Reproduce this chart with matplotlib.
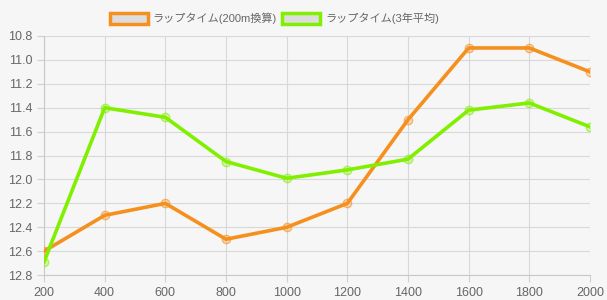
import matplotlib
matplotlib.use("Agg")
import matplotlib.pyplot as plt
from matplotlib.patches import Patch

plt.rcParams['font.family'] = ['Liberation Sans', 'Noto Sans CJK JP', 'DejaVu Sans']

distances = [200, 400, 600, 800, 1000, 1200, 1400, 1600, 1800, 2000]
lap_200m = [12.6, 12.3, 12.2, 12.5, 12.4, 12.2, 11.5, 10.9, 10.9, 11.1]
lap_3yr = [12.69, 11.4, 11.48, 11.85, 11.99, 11.92, 11.83, 11.42, 11.36, 11.56]
labels = ['ラップタイム(200m換算)', 'ラップタイム(3年平均)']
colors = ['#f5901e', '#80f000']
yticks = [10.8, 11.0, 11.2, 11.4, 11.6, 11.8, 12.0, 12.2, 12.4, 12.6, 12.8]

bg = '#f6f6f6'
fig = plt.figure(figsize=(6.07, 3.0), dpi=100, facecolor=bg)
ax = fig.add_axes([0.0725, 0.083, 0.8995, 0.797], facecolor=bg)

for series, c in zip([lap_200m, lap_3yr], colors):
    ax.plot(distances, series, color=c, lw=2.6, zorder=3,
            marker='o', markersize=6, markerfacecolor=c + '44',
            markeredgecolor=c + '99', markeredgewidth=1)

ax.set_xlim(200, 2000)
ax.set_ylim(12.8, 10.8)
ax.set_xticks(distances)
ax.set_yticks(yticks)
ax.set_yticklabels([f'{v:.1f}' for v in yticks])
ax.grid(True, color='#d8d8d8', lw=0.8, zorder=0)
for s in ['top', 'right']:
    ax.spines[s].set_visible(False)
for s in ['left', 'bottom']:
    ax.spines[s].set_color('#c8c8c8')
ax.tick_params(colors='#d0d0d0', labelcolor='#666666', labelsize=9, length=5, width=0.8)

handles = [Patch(facecolor='#dddddd', edgecolor=c, linewidth=2.5, label=l)
           for c, l in zip(colors, labels)]
fig.legend(handles=handles, loc='center left', bbox_to_anchor=(0.181, 0.938), ncol=2,
           frameon=False, fontsize=8, handlelength=3.4, handleheight=1.25,
           handletextpad=0.45, columnspacing=0.5, labelcolor='#666666',
           borderaxespad=0, borderpad=0)

fig.savefig('out.png', dpi=100, facecolor=bg)
